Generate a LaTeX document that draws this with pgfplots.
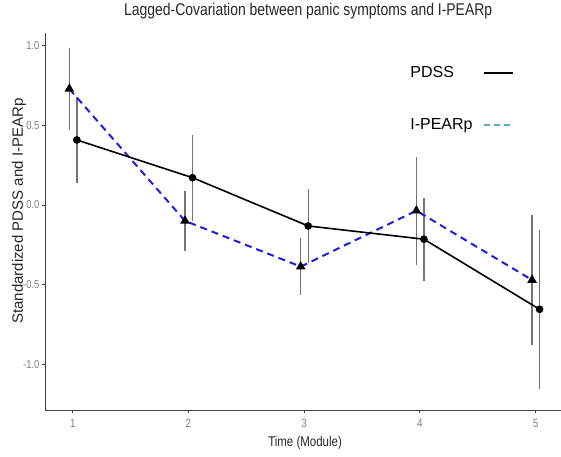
\documentclass[border=0pt]{standalone}
\usepackage{fontspec}
\setmainfont{Liberation Sans}
\newfontfamily\narrowfont[FakeStretch=0.82]{Liberation Sans}
\usepackage{pgfplots}
\pgfplotsset{compat=1.18}
\usepackage{pgfplotstable}
\definecolor{axisgray}{gray}{0.25}
\definecolor{barcol}{gray}{0.45}
\definecolor{dashblue}{RGB}{30,30,225}
\definecolor{legteal}{RGB}{95,170,200}

\pgfplotstableread{
x y e
1.035 0.408 0.27
2.035 0.171 0.27
3.035 -0.132 0.23
4.035 -0.215 0.26
5.035 -0.655 0.50
}\pdss
\pgfplotstableread{
x y e
0.970 0.728 0.26
1.970 -0.100 0.19
2.970 -0.387 0.18
3.970 -0.036 0.34
4.970 -0.471 0.41
}\ipearp

\begin{document}
\begin{tikzpicture}[x=1pt,y=1pt]
\path[use as bounding box] (0,0) rectangle (561,456);
\begin{axis}[
  at={(45pt,46pt)}, anchor=south west,
  scale only axis, width=516pt, height=377.3pt,
  xmin=0.76, xmax=5.22, ymin=-1.287, ymax=1.081,
  axis x line=bottom, axis y line=left,
  axis line style={-, axisgray, line width=0.9pt},
  xtick={1,2,3,4,5}, ytick={-1,-0.5,0,0.5,1},
  tick align=outside, major tick length=3pt,
  tick style={axisgray, line width=0.8pt},
  /pgf/number format/assume math mode=true,
  ticklabel style={font=\narrowfont\fontsize{11.5}{13}\selectfont, text=gray},
  yticklabel style={xshift=1pt, /pgf/number format/.cd, fixed, fixed zerofill, precision=1},
  xticklabel style={yshift=-3pt, font=\narrowfont\fontsize{12}{14}\selectfont},
  title={Lagged-Covariation between panic symptoms and I-PEARp},
  title style={font=\narrowfont\fontsize{17}{20}\selectfont, text=black!85, at={(0.51,1.0416)}, anchor=center},
  xlabel={Time (Module)},
  xlabel style={font=\narrowfont\fontsize{14}{16}\selectfont, text=black!85, at={(axis description cs:0.504,-0.0875)}, anchor=center},
  ylabel={Standardized PDSS and I-PEARp},
  ylabel style={font=\fontsize{15}{17}\selectfont, text=black!85, at={(axis description cs:-0.0504,0.527)}, anchor=center, rotate=0},
  legend plot pos=right,
  legend cell align=left,
  legend style={draw=none, fill=none, at={(0.698,0.921)}, anchor=north west,
    font=\fontsize{16}{18}\selectfont, row sep=35pt, column sep=8pt},
  legend image code/.code={\draw[#1] (0pt,0pt) -- (29pt,0pt);},
]
\addlegendimage{black, line width=2.4pt}
\addlegendentry{PDSS}
\addlegendimage{legteal, line width=1.8pt, dash pattern=on 6pt off 4pt}
\addlegendentry{I-PEARp}

\addplot[forget plot, only marks, mark=none,
  error bars/.cd, y dir=both, y explicit,
  error mark=none, error bar style={barcol, line width=1.4pt}]
  table[x=x, y=y, y error=e] {\pdss};
\addplot[forget plot, only marks, mark=none,
  error bars/.cd, y dir=both, y explicit,
  error mark=none, error bar style={barcol, line width=1.4pt}]
  table[x=x, y=y, y error=e] {\ipearp};

\addplot[forget plot, dashblue, line width=2pt, dash pattern=on 7pt off 5pt,
  mark=triangle*, mark size=3.6pt, mark options={black, fill=black, solid}]
  table[x=x, y=y] {\ipearp};
\addplot[forget plot, black, line width=1.6pt,
  mark=*, mark size=3pt, mark options={black, fill=black}]
  table[x=x, y=y] {\pdss};
\end{axis}
\end{tikzpicture}
\end{document}
